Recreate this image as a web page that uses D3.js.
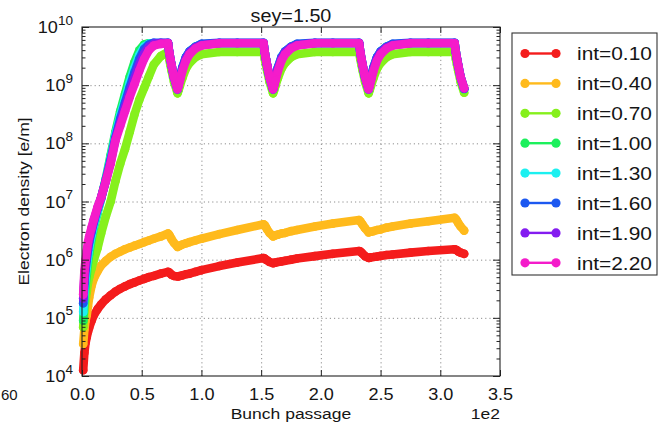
<!DOCTYPE html>
<html>
<head>
<meta charset="utf-8">
<script src="https://cdn.jsdelivr.net/npm/d3@7"></script>
<style>
  body { margin: 0; background: #fff; }
  svg { display: block; }
  text { font-family: "Liberation Sans", Arial, Helvetica, sans-serif; fill: #151515; }
</style>
</head>
<body>
<svg id="chart" width="663" height="426"></svg>
<script>
// Bunch passage numbers (x positions) shared by every series
const bunches = [
  1, 2, 3, 4, 5, 6, 8, 10, 13, 16, 20, 24, 28, 32, 36, 40, 44, 48, 52, 56, 60, 66, 72,
  73, 74, 75, 77, 80,
  81, 82, 84, 87, 90, 95, 100, 115, 130, 152,
  153, 154, 155, 157, 160,
  161, 162, 164, 167, 170, 175, 180, 195, 210, 232,
  233, 234, 235, 237, 240,
  241, 242, 244, 247, 250, 255, 260, 275, 290, 312,
  313, 314, 315, 317, 320
];

// Electron density [e/m] per bunch intensity
const int010 = [
  1.26e4, 2.51e4, 3.72e4, 4.68e4, 5.75e4, 6.76e4, 8.91e4, 1.12e5, 1.41e5, 1.70e5, 2.09e5, 2.45e5, 2.82e5, 3.16e5, 3.47e5, 3.80e5, 4.07e5, 4.37e5, 4.68e5, 5.01e5, 5.25e5, 5.75e5, 6.17e5,
  6.03e5, 5.75e5, 5.50e5, 5.25e5, 5.13e5,
  5.19e5, 5.25e5, 5.37e5, 5.62e5, 5.75e5, 6.17e5, 6.61e5, 7.76e5, 8.91e5, 1.07e6,
  1.05e6, 1.00e6, 9.77e5, 9.12e5, 8.71e5,
  8.81e5, 8.91e5, 9.12e5, 9.33e5, 9.55e5, 1.00e6, 1.05e6, 1.15e6, 1.26e6, 1.41e6,
  1.38e6, 1.32e6, 1.26e6, 1.15e6, 1.07e6,
  1.08e6, 1.10e6, 1.11e6, 1.13e6, 1.16e6, 1.20e6, 1.23e6, 1.32e6, 1.41e6, 1.51e6,
  1.48e6, 1.45e6, 1.38e6, 1.32e6, 1.26e6
];
const int040 = [
  3.55e4, 6.31e4, 8.91e4, 1.12e5, 1.58e5, 2.24e5, 3.55e5, 4.79e5, 6.31e5, 7.94e5, 9.55e5, 1.12e6, 1.26e6, 1.38e6, 1.51e6, 1.62e6, 1.74e6, 1.86e6, 2.00e6, 2.14e6, 2.29e6, 2.51e6, 2.82e6,
  2.69e6, 2.45e6, 2.24e6, 1.95e6, 1.66e6,
  1.70e6, 1.74e6, 1.82e6, 1.91e6, 2.00e6, 2.14e6, 2.29e6, 2.75e6, 3.24e6, 4.07e6,
  3.89e6, 3.63e6, 3.31e6, 2.88e6, 2.51e6,
  2.57e6, 2.63e6, 2.69e6, 2.82e6, 2.88e6, 3.09e6, 3.24e6, 3.72e6, 4.17e6, 4.79e6,
  4.57e6, 4.27e6, 3.98e6, 3.47e6, 2.95e6,
  3.02e6, 3.02e6, 3.09e6, 3.24e6, 3.31e6, 3.55e6, 3.72e6, 4.17e6, 4.57e6, 5.25e6,
  5.01e6, 4.68e6, 4.27e6, 3.72e6, 3.16e6
];
const int070 = [
  6.92e4, 1.26e5, 2.00e5, 2.82e5, 3.98e5, 5.01e5, 7.08e5, 1.00e6, 1.58e6, 2.82e6, 5.62e6, 1.00e7, 2.24e7, 4.47e7, 7.94e7, 1.58e8, 3.16e8, 5.62e8, 8.91e8, 1.41e9, 2.24e9, 3.16e9, 3.72e9,
  2.82e9, 2.24e9, 1.78e9, 1.15e9, 7.24e8,
  8.32e8, 9.77e8, 1.32e9, 1.91e9, 2.40e9, 3.02e9, 3.39e9, 3.72e9, 3.72e9, 3.72e9,
  2.82e9, 2.24e9, 1.78e9, 1.15e9, 7.24e8,
  8.32e8, 9.77e8, 1.32e9, 1.91e9, 2.40e9, 3.02e9, 3.39e9, 3.72e9, 3.72e9, 3.72e9,
  2.82e9, 2.24e9, 1.78e9, 1.15e9, 7.24e8,
  8.32e8, 9.77e8, 1.32e9, 1.91e9, 2.40e9, 3.02e9, 3.39e9, 3.72e9, 3.72e9, 3.72e9,
  2.82e9, 2.24e9, 1.78e9, 1.15e9, 7.41e8
];
const int100 = [
  8.91e4, 2.00e5, 3.55e5, 5.62e5, 8.91e5, 1.26e6, 2.24e6, 3.55e6, 6.31e6, 1.12e7, 2.51e7, 6.31e7, 1.58e8, 3.55e8, 7.08e8, 1.41e9, 2.51e9, 3.98e9, 5.01e9, 5.25e9, 5.25e9, 5.25e9, 5.25e9,
  3.72e9, 2.82e9, 2.14e9, 1.35e9, 8.32e8,
  1.05e9, 1.32e9, 1.95e9, 2.95e9, 3.72e9, 4.57e9, 5.01e9, 5.25e9, 5.25e9, 5.25e9,
  3.72e9, 2.82e9, 2.14e9, 1.35e9, 8.32e8,
  1.05e9, 1.32e9, 1.95e9, 2.95e9, 3.72e9, 4.57e9, 5.01e9, 5.25e9, 5.25e9, 5.25e9,
  3.72e9, 2.82e9, 2.14e9, 1.35e9, 8.32e8,
  1.05e9, 1.32e9, 1.95e9, 2.95e9, 3.72e9, 4.57e9, 5.01e9, 5.25e9, 5.25e9, 5.25e9,
  3.72e9, 2.82e9, 2.14e9, 1.35e9, 8.51e8
];
const int130 = [
  1.26e5, 2.82e5, 5.01e5, 7.59e5, 1.12e6, 1.58e6, 2.63e6, 3.98e6, 6.76e6, 1.12e7, 2.40e7, 5.62e7, 1.41e8, 3.02e8, 5.75e8, 1.12e9, 2.00e9, 3.31e9, 4.57e9, 5.13e9, 5.25e9, 5.25e9, 5.25e9,
  3.72e9, 2.82e9, 2.19e9, 1.38e9, 8.51e8,
  1.07e9, 1.35e9, 2.00e9, 3.02e9, 3.80e9, 4.57e9, 5.01e9, 5.25e9, 5.25e9, 5.25e9,
  3.72e9, 2.82e9, 2.19e9, 1.38e9, 8.51e8,
  1.07e9, 1.35e9, 2.00e9, 3.02e9, 3.80e9, 4.57e9, 5.01e9, 5.25e9, 5.25e9, 5.25e9,
  3.72e9, 2.82e9, 2.19e9, 1.38e9, 8.51e8,
  1.07e9, 1.35e9, 2.00e9, 3.02e9, 3.80e9, 4.57e9, 5.01e9, 5.25e9, 5.25e9, 5.25e9,
  3.72e9, 2.82e9, 2.19e9, 1.38e9, 8.71e8
];
const int160 = [
  1.78e5, 3.98e5, 6.76e5, 1.00e6, 1.45e6, 2.00e6, 3.02e6, 4.47e6, 7.41e6, 1.15e7, 2.34e7, 5.25e7, 1.26e8, 2.63e8, 5.01e8, 9.33e8, 1.66e9, 2.82e9, 4.17e9, 5.01e9, 5.37e9, 5.37e9, 5.37e9,
  3.72e9, 2.82e9, 2.19e9, 1.38e9, 8.51e8,
  1.07e9, 1.35e9, 2.00e9, 3.02e9, 3.80e9, 4.57e9, 5.13e9, 5.37e9, 5.37e9, 5.37e9,
  3.72e9, 2.82e9, 2.19e9, 1.38e9, 8.51e8,
  1.07e9, 1.35e9, 2.00e9, 3.02e9, 3.80e9, 4.57e9, 5.13e9, 5.37e9, 5.37e9, 5.37e9,
  3.72e9, 2.82e9, 2.19e9, 1.38e9, 8.51e8,
  1.07e9, 1.35e9, 2.00e9, 3.02e9, 3.80e9, 4.57e9, 5.13e9, 5.37e9, 5.37e9, 5.37e9,
  3.72e9, 2.82e9, 2.19e9, 1.38e9, 8.71e8
];
const int190 = [
  2.14e5, 5.01e5, 8.32e5, 1.20e6, 1.70e6, 2.24e6, 3.31e6, 4.79e6, 7.76e6, 1.17e7, 2.29e7, 4.79e7, 1.17e8, 2.24e8, 4.17e8, 7.59e8, 1.32e9, 2.24e9, 3.47e9, 4.57e9, 5.13e9, 5.30e9, 5.30e9,
  3.72e9, 2.82e9, 2.19e9, 1.38e9, 8.51e8,
  1.05e9, 1.29e9, 1.91e9, 2.88e9, 3.63e9, 4.47e9, 4.90e9, 5.30e9, 5.30e9, 5.30e9,
  3.72e9, 2.82e9, 2.19e9, 1.38e9, 8.51e8,
  1.05e9, 1.29e9, 1.91e9, 2.88e9, 3.63e9, 4.47e9, 4.90e9, 5.30e9, 5.30e9, 5.30e9,
  3.72e9, 2.82e9, 2.19e9, 1.38e9, 8.51e8,
  1.05e9, 1.29e9, 1.91e9, 2.88e9, 3.63e9, 4.47e9, 4.90e9, 5.30e9, 5.30e9, 5.30e9,
  3.72e9, 2.82e9, 2.19e9, 1.38e9, 8.71e8
];
const int220 = [
  2.51e5, 6.31e5, 1.00e6, 1.41e6, 2.00e6, 2.51e6, 3.55e6, 5.01e6, 7.94e6, 1.17e7, 2.24e7, 4.47e7, 1.12e8, 2.00e8, 3.55e8, 6.31e8, 1.05e9, 1.78e9, 2.82e9, 3.98e9, 4.79e9, 5.13e9, 5.25e9,
  3.72e9, 2.82e9, 2.19e9, 1.38e9, 8.51e8,
  1.00e9, 1.20e9, 1.74e9, 2.63e9, 3.39e9, 4.27e9, 4.79e9, 5.25e9, 5.25e9, 5.25e9,
  3.72e9, 2.82e9, 2.19e9, 1.38e9, 8.51e8,
  1.00e9, 1.20e9, 1.74e9, 2.63e9, 3.39e9, 4.27e9, 4.79e9, 5.25e9, 5.25e9, 5.25e9,
  3.72e9, 2.82e9, 2.19e9, 1.38e9, 8.51e8,
  1.00e9, 1.20e9, 1.74e9, 2.63e9, 3.39e9, 4.27e9, 4.79e9, 5.25e9, 5.25e9, 5.25e9,
  3.72e9, 2.82e9, 2.19e9, 1.38e9, 8.91e8
];

const seriesLabels = ["int=0.10", "int=0.40", "int=0.70", "int=1.00", "int=1.30", "int=1.60", "int=1.90", "int=2.20"];
const seriesColors = ["#f41c1c", "#ffba1c", "#86f01c", "#1cf05c", "#1cf0f0", "#1c58f0", "#841cf0", "#f41cca"];
const seriesValues = [int010, int040, int070, int100, int130, int160, int190, int220];

const xTickValues = [0, 50, 100, 150, 200, 250, 300, 350];   // bunch passage, shown in units of 1e2
const yTickValues = [1e4, 1e5, 1e6, 1e7, 1e8, 1e9, 1e10];
const yTickExponents = ["4", "5", "6", "7", "8", "9", "10"];

const titleText = "sey=1.50";
const xLabelText = "Bunch passage";
const yLabelText = "Electron density [e/m]";
const xOffsetText = "1e2";
const edgeLabelText = "60";

// ---------------------------------------------------------------
const svg = d3.select("#chart");
const P = { l: 82, r: 500, t: 27, b: 376 };
const SX = 1.13;               // horizontal text stretch
const MR = 4.3;                // marker radius

const x = d3.scaleLinear().domain([0, 350]).range([P.l, P.r]);
const y = d3.scaleLog().domain([1e4, 1e10]).range([P.b, P.t]);

function label(g, px, py, str, size, anchor, rot, sx) {
  return g.append("text")
    .attr("transform", `translate(${px},${py})` + (rot ? ` rotate(${rot})` : "") + ` scale(${sx || SX},1)`)
    .attr("text-anchor", anchor)
    .attr("font-size", size)
    .text(str);
}

// dotted grid
const grid = svg.append("g");
grid.append("g")
  .attr("transform", `translate(0,${P.b})`)
  .call(d3.axisBottom(x).tickValues(xTickValues.slice(1, -1)).tickSize(-(P.b - P.t)).tickFormat(""))
  .call(g => g.select(".domain").remove());
grid.append("g")
  .attr("transform", `translate(${P.l},0)`)
  .call(d3.axisLeft(y).tickValues(yTickValues.slice(1, -1)).tickSize(-(P.r - P.l)).tickFormat(""))
  .call(g => g.select(".domain").remove());
grid.selectAll("line").attr("stroke", "#8e8e8e").attr("stroke-width", 1).attr("stroke-dasharray", "1.2,3");

// data series: dense markers joined into a thick band
const line = d3.line().x((d, i) => x(bunches[i])).y(d => y(d));
const plot = svg.append("g");
seriesValues.forEach((vals, k) => {
  const g = plot.append("g");
  g.append("path")
    .attr("d", line(vals))
    .attr("fill", "none")
    .attr("stroke", seriesColors[k])
    .attr("stroke-width", MR * 2)
    .attr("stroke-linejoin", "round")
    .attr("stroke-linecap", "round");
  g.selectAll("circle").data(vals).join("circle")
    .attr("cx", (d, i) => x(bunches[i]))
    .attr("cy", d => y(d))
    .attr("r", MR)
    .attr("fill", seriesColors[k]);
});

// axes
const axes = svg.append("g").attr("color", "#222");
const minorTicks = [];
for (let e = 4; e < 10; e++) for (let m = 2; m <= 9; m++) minorTicks.push(m * Math.pow(10, e));

axes.append("g").attr("transform", `translate(${P.l},0)`)
  .call(d3.axisLeft(y).tickValues(minorTicks).tickSize(-3.5).tickFormat(""));
axes.append("g").attr("transform", `translate(${P.r},0)`)
  .call(d3.axisRight(y).tickValues(minorTicks).tickSize(-3.5).tickFormat(""));
axes.append("g").attr("transform", `translate(${P.l},0)`)
  .call(d3.axisLeft(y).tickValues(yTickValues).tickSize(-7).tickFormat(""));
axes.append("g").attr("transform", `translate(${P.r},0)`)
  .call(d3.axisRight(y).tickValues(yTickValues).tickSize(-7).tickFormat(""));
axes.append("g").attr("transform", `translate(0,${P.t})`)
  .call(d3.axisTop(x).tickValues(xTickValues).tickSize(-6).tickFormat(""));
const xAxis = axes.append("g").attr("transform", `translate(0,${P.b})`)
  .call(d3.axisBottom(x).tickValues(xTickValues).tickSizeInner(-6).tickSizeOuter(0)
    .tickPadding(12.6).tickFormat(d => d3.format(".1f")(d / 100)));
xAxis.selectAll("text").attr("font-size", 16).attr("transform", `scale(${SX},1)`).attr("fill", "#151515");
axes.selectAll(".domain").remove();

svg.append("rect")
  .attr("x", P.l).attr("y", P.t).attr("width", P.r - P.l).attr("height", P.b - P.t)
  .attr("fill", "none").attr("stroke", "#222").attr("stroke-width", 1.1);

// y tick labels: powers of ten
const yLab = svg.append("g");
yTickValues.forEach((v, i) => {
  const t = yLab.append("text")
    .attr("transform", `translate(73,${y(v) + 6}) scale(${SX},1)`)
    .attr("text-anchor", "end")
    .attr("font-size", 16);
  t.append("tspan").text("10");
  t.append("tspan").attr("dy", -8.5).attr("font-size", 12).text(yTickExponents[i]);
});

// titles
label(svg, 291, 21.5, titleText, 17.5, "middle");
label(svg, 291, 419, xLabelText, 15.5, "middle");
label(svg, 500, 419, xOffsetText, 15.5, "end");
label(svg, 28.5, (P.t + P.b) / 2, yLabelText, 15.5, "middle", -90);
label(svg, 1, 400, edgeLabelText, 15, "start", 0, 1);

// legend
const leg = svg.append("g");
leg.append("rect").attr("x", 512).attr("y", 33).attr("width", 145).attr("height", 242)
  .attr("fill", "#fff").attr("stroke", "#333").attr("stroke-width", 1.1);
seriesLabels.forEach((name, k) => {
  const cy = 53.5 + k * 29.9;
  const g = leg.append("g");
  g.append("line").attr("x1", 525).attr("x2", 556).attr("y1", cy).attr("y2", cy)
    .attr("stroke", seriesColors[k]).attr("stroke-width", 2.4);
  [525, 556].forEach(cx => g.append("circle").attr("cx", cx).attr("cy", cy).attr("r", 4.6).attr("fill", seriesColors[k]));
  label(g, 577, cy + 6.8, name, 18.5, "start");
});
</script>
</body>
</html>
